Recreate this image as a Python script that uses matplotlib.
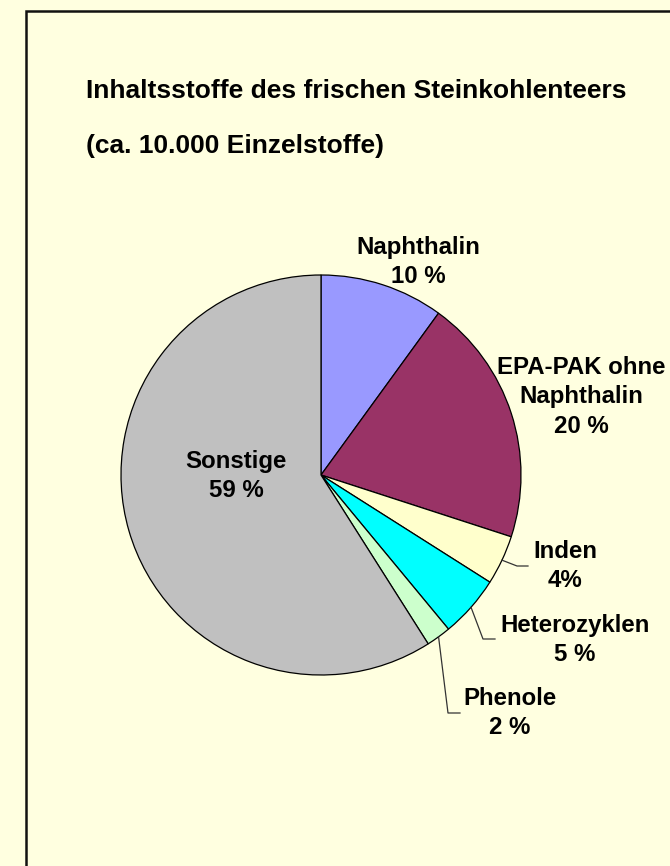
import matplotlib
matplotlib.use('Agg')
import matplotlib.pyplot as plt
from matplotlib.patches import Rectangle
import numpy as np

# data
categories = ['Naphthalin', 'EPA-PAK ohne\nNaphthalin', 'Inden', 'Heterozyklen', 'Phenole', 'Sonstige']
shares = [10, 20, 4, 5, 2, 59]
pct_labels = ['10 %', '20 %', '4%', '5 %', '2 %', '59 %']
colors = ['#9999FF', '#993366', '#FFFFCC', '#00FFFF', '#CCFFCC', '#C0C0C0']

title_lines = ['Inhaltsstoffe des frischen Steinkohlenteers', '(ca. 10.000 Einzelstoffe)']

# layout (pixel positions in the 670x866 picture)
W, H = 670, 866
cx, cy, R = 321, 475, 200
label_pos = [(418, 262), (581, 397), (565, 566), (575, 640), (510, 713), (236, 476)]
# leader lines: index -> (elbow, end)
leaders = {2: ((517, 566), (528, 566)),
           3: ((483, 639), (495, 639)),
           4: ((448, 713), (460, 713))}

bg = '#FFFFE0'
font = ['Liberation Sans', 'DejaVu Sans']


def px(x, y):
    return (x - cx) / R, (cy - y) / R


fig = plt.figure(figsize=(W / 100, H / 100), dpi=100, facecolor=bg)
ax = fig.add_axes([0, 0, 1, 1])
ax.set_facecolor(bg)
ax.axis('off')

wedges, _ = ax.pie(shares, colors=colors, startangle=90, counterclock=False,
                   radius=1, center=(0, 0),
                   wedgeprops=dict(edgecolor='black', linewidth=0.9))
ax.set_xlim(-cx / R, (W - cx) / R)
ax.set_ylim((cy - H) / R, cy / R)

for i, (cat, pct) in enumerate(zip(categories, pct_labels)):
    lx, ly = px(*label_pos[i])
    ax.text(lx, ly, cat + '\n' + pct, ha='center', va='center', fontsize=17.3,
            fontweight='bold', family=font, linespacing=1.37, color='black')

# leader lines from the slice middle on the rim
ends = np.cumsum(shares) / sum(shares) * 360
starts = ends - np.array(shares) / sum(shares) * 360
for i, (elbow, end) in leaders.items():
    mid = np.deg2rad((starts[i] + ends[i]) / 2)
    x0, y0 = np.sin(mid), np.cos(mid)
    ex, ey = px(*elbow)
    fx, fy = px(*end)
    ax.plot([x0, ex, fx], [y0, ey, fy], color='#333333', lw=0.9)

fig.text(86 / W, 1 - 98 / H, title_lines[0], ha='left', va='baseline',
         fontsize=19, fontweight='bold', family=font)
fig.text(86 / W, 1 - 153 / H, title_lines[1], ha='left', va='baseline',
         fontsize=19, fontweight='bold', family=font)

fig.patches.append(Rectangle((26 / W, -0.1), 2, 1 - 10.5 / H + 0.1,
                             transform=fig.transFigure, fill=False,
                             edgecolor='#111111', linewidth=1.8))

fig.savefig('out.png', dpi=100, facecolor=bg)
